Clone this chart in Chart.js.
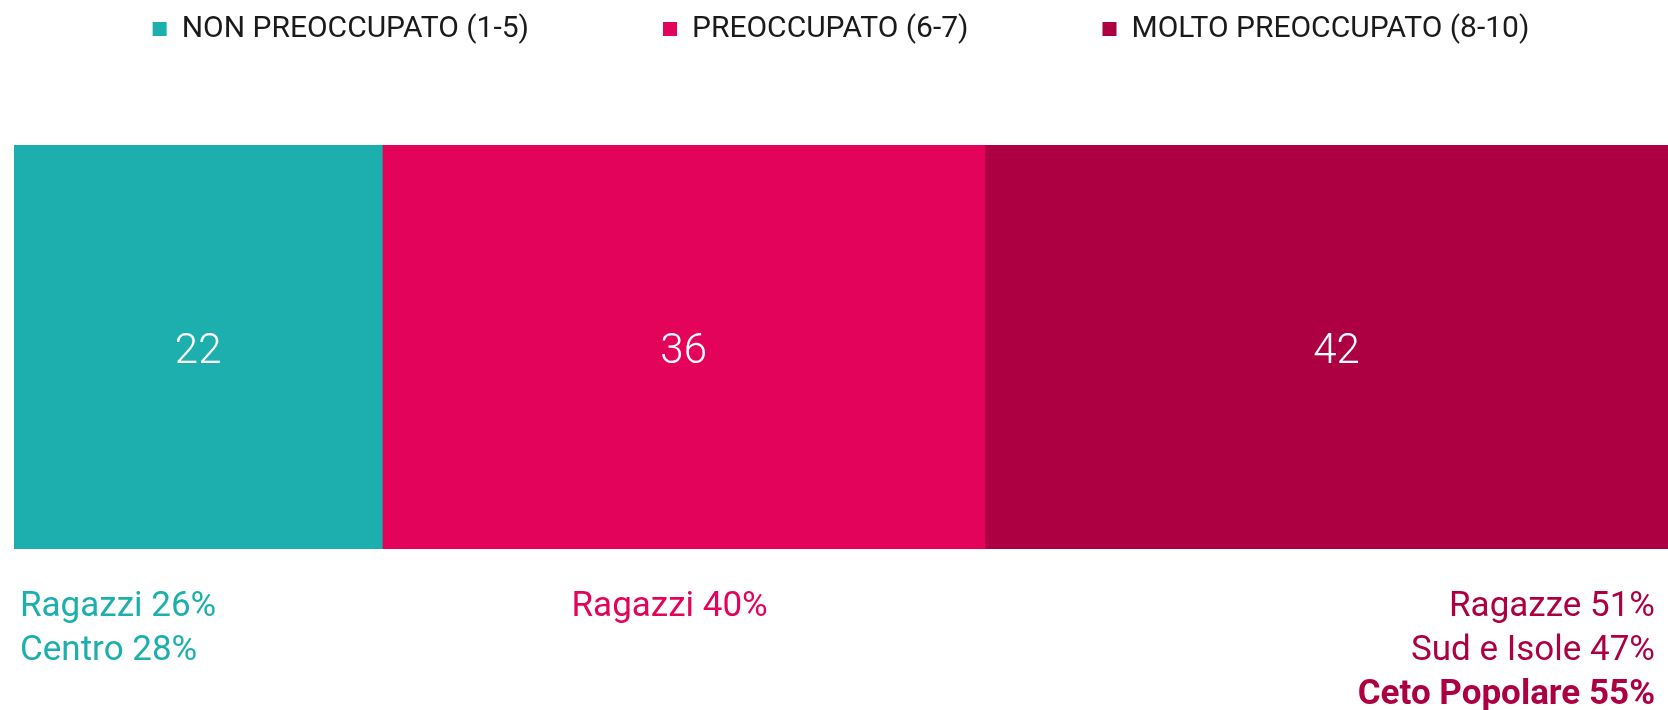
<!DOCTYPE html>
<html lang="it">
<head>
<meta charset="utf-8">
<title>Preoccupazione</title>
<script src="https://cdn.jsdelivr.net/npm/chart.js@4.4.1/dist/chart.umd.min.js"></script>
<style>
  html, body { margin: 0; padding: 0; background: #ffffff; overflow: hidden; }
  #wrap { position: relative; width: 1668px; height: 710px; }
</style>
</head>
<body>
<div id="wrap"><canvas id="worryChart"></canvas></div>
<script>
const categories = ['Totale'];
const seriesNames = ['NON PREOCCUPATO (1-5)', 'PREOCCUPATO (6-7)', 'MOLTO PREOCCUPATO (8-10)'];
const nonPreoccupato = [22];
const preoccupato = [36];
const moltoPreoccupato = [42];
const notesNon = ['Ragazzi 26%', 'Centro 28%'];
const notesPre = ['Ragazzi 40%'];
const notesMolto = ['Ragazze 51%', 'Sud e Isole 47%', 'Ceto Popolare 55%'];
const boldNotes = ['Ceto Popolare 55%'];

const colors = ['#1dafae', '#e4035a', '#ad0042'];
const FONT = 'Roboto, "Noto Sans", sans-serif';

// pushes the legend up and leaves the gap above the bar
const legendSpacer = {
  id: 'legendSpacer',
  beforeInit(chart) {
    const origFit = chart.legend.fit;
    chart.legend.fit = function fit() {
      origFit.bind(chart.legend)();
      this.height = 265;
    };
  }
};

const barLabels = {
  id: 'barLabels',
  afterDatasetsDraw(chart) {
    const ctx = chart.ctx;
    const area = chart.chartArea;
    const notes = [notesNon, notesPre, notesMolto];
    ctx.save();
    chart.data.datasets.forEach((ds, i) => {
      const bar = chart.getDatasetMeta(i).data[0];
      if (!bar) return;
      const cx = (bar.x + bar.base) / 2;
      ctx.fillStyle = '#ffffff';
      ctx.font = '300 42px ' + FONT;
      ctx.textAlign = 'center';
      ctx.textBaseline = 'middle';
      ctx.fillText(ds.data[0], cx, bar.y + 5);

      const bottom = bar.y + bar.height / 2;
      ctx.fillStyle = colors[i];
      ctx.textBaseline = 'alphabetic';
      notes[i].forEach((line, k) => {
        ctx.font = (boldNotes.includes(line) ? '700 ' : '400 ') + '35px ' + FONT;
        let x;
        if (i === 0) {
          ctx.textAlign = 'left';
          x = bar.base + 6;
        } else if (i === notes.length - 1) {
          ctx.textAlign = 'right';
          x = area.right - 13;
        } else {
          ctx.textAlign = 'center';
          x = cx - 14;
        }
        ctx.fillText(line, x, bottom + 67 + k * 44);
      });
    });
    ctx.restore();
  }
};

const ctx = document.getElementById('worryChart').getContext('2d');
new Chart(ctx, {
  type: 'bar',
  data: {
    labels: categories,
    datasets: [
      { label: seriesNames[0], data: nonPreoccupato, backgroundColor: colors[0] },
      { label: seriesNames[1], data: preoccupato, backgroundColor: colors[1] },
      { label: seriesNames[2], data: moltoPreoccupato, backgroundColor: colors[2] }
    ]
  },
  options: {
    indexAxis: 'y',
    responsive: true,
    maintainAspectRatio: false,
    animation: false,
    datasets: {
      bar: { barPercentage: 1, categoryPercentage: 1, borderWidth: 0 }
    },
    layout: {
      padding: { top: -120, left: 14, right: 0, bottom: 161 }
    },
    scales: {
      x: { stacked: true, min: 0, max: 98.8, display: false },
      y: { stacked: true, display: false }
    },
    plugins: {
      tooltip: { enabled: false },
      legend: {
        position: 'top',
        align: 'center',
        labels: {
          boxWidth: 14,
          boxHeight: 14,
          padding: 134,
          color: '#1a1a1a',
          font: { family: FONT, size: 30, weight: '400' }
        }
      }
    }
  },
  plugins: [legendSpacer, barLabels]
});
</script>
</body>
</html>
